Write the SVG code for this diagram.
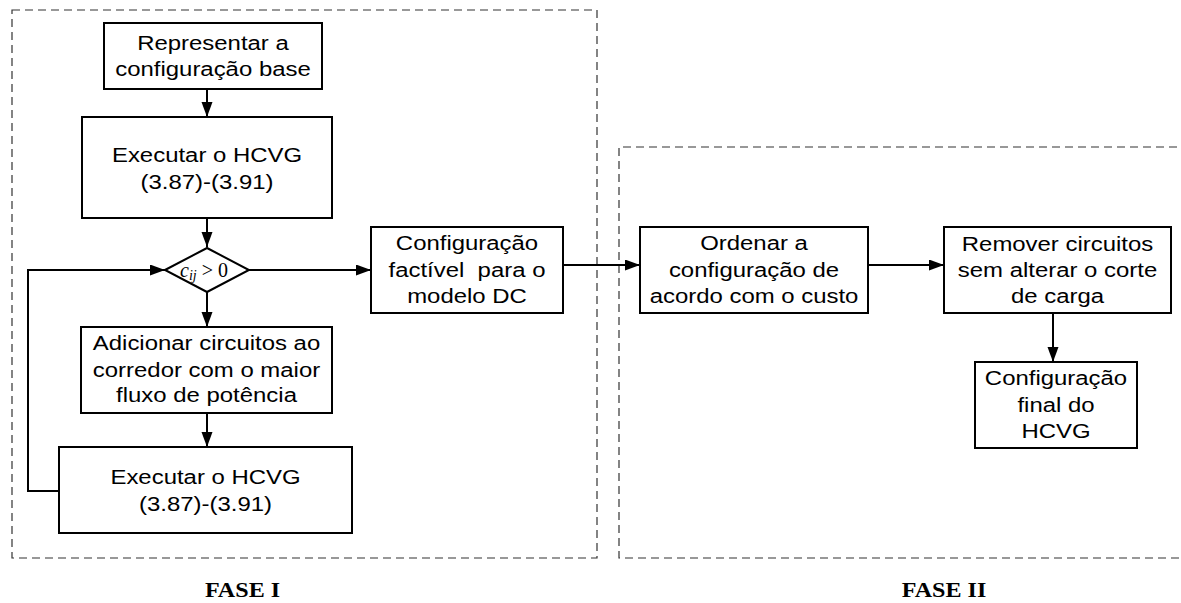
<svg xmlns="http://www.w3.org/2000/svg" width="1181" height="603" viewBox="0 0 1181 603">
<style>
.box{fill:#fff;stroke:#000;stroke-width:2}
.t{font-family:"Liberation Sans",Arial,sans-serif;font-size:21px;fill:#000;text-anchor:middle}
.ph{font-family:"Liberation Serif","Times New Roman",serif;font-size:21.5px;font-weight:bold;fill:#000;text-anchor:middle}
.dash{fill:none;stroke:#333;stroke-width:1.2;stroke-dasharray:8 5}
.c{fill:none;stroke:#000;stroke-width:2}
</style>
<defs>
<marker id="ah" markerUnits="userSpaceOnUse" markerWidth="16" markerHeight="12" refX="15" refY="5.5" orient="auto">
<path d="M0,0 L15,5.5 L0,11 z" fill="#000"/>
</marker>
</defs>
<g id="phases">
<rect class="dash" x="12" y="10" width="585" height="548"/>
<path class="dash" d="M1190,147 H619 V558 H1190"/>
<text class="ph" transform="translate(242.5,597) scale(1.12 1)">FASE I</text>
<text class="ph" transform="translate(944,597) scale(1.12 1)">FASE II</text>
</g>
<g id="connectors">
<path class="c" d="M207,89 V117" marker-end="url(#ah)"/>
<path class="c" d="M207,218 V247" marker-end="url(#ah)"/>
<path class="c" d="M59,491 H28 V270 H165" marker-end="url(#ah)"/>
<path class="c" d="M249,270 H371" marker-end="url(#ah)"/>
<path class="c" d="M207,292 V327" marker-end="url(#ah)"/>
<path class="c" d="M207,413 V447" marker-end="url(#ah)"/>
<path class="c" d="M563,265 H640" marker-end="url(#ah)"/>
<path class="c" d="M868,265 H944" marker-end="url(#ah)"/>
<path class="c" d="M1053,313 V362" marker-end="url(#ah)"/>
</g>
<g id="n1">
<rect class="box" x="104" y="23" width="218" height="66"/>
<text class="t" transform="translate(213,50) scale(1.14 1)">Representar a</text>
<text class="t" transform="translate(213,76) scale(1.14 1)">configuração base</text>
</g>
<g id="n2">
<rect class="box" x="82" y="117" width="250" height="101"/>
<text class="t" transform="translate(207,162) scale(1.14 1)">Executar o HCVG</text>
<text class="t" transform="translate(207,189) scale(1.14 1)">(3.87)-(3.91)</text>
</g>
<g id="n3">
<path class="box" d="M165,270 L207,248 L249,270 L207,292 Z"/>
<text x="204" y="277" font-family="'Liberation Serif','Times New Roman',serif" font-size="20" text-anchor="middle"><tspan font-style="italic">c</tspan><tspan font-style="italic" font-size="14" dy="3">ij</tspan><tspan dy="-3"> &gt; 0</tspan></text>
</g>
<g id="n4">
<rect class="box" x="81" y="327" width="251" height="86"/>
<text class="t" transform="translate(206.5,350) scale(1.14 1)">Adicionar circuitos ao</text>
<text class="t" transform="translate(206.5,377) scale(1.14 1)">corredor com o maior</text>
<text class="t" transform="translate(206.5,402) scale(1.14 1)">fluxo de potência</text>
</g>
<g id="n5">
<rect class="box" x="59" y="447" width="293" height="86"/>
<text class="t" transform="translate(205.5,484) scale(1.14 1)">Executar o HCVG</text>
<text class="t" transform="translate(205.5,511) scale(1.14 1)">(3.87)-(3.91)</text>
</g>
<g id="n6">
<rect class="box" x="371" y="227" width="192" height="86"/>
<text class="t" transform="translate(467,250) scale(1.14 1)">Configuração</text>
<text class="t" xml:space="preserve" transform="translate(467,277) scale(1.14 1)">factível  para o</text>
<text class="t" transform="translate(467,303) scale(1.14 1)">modelo DC</text>
</g>
<g id="n7">
<rect class="box" x="640" y="227" width="228" height="86"/>
<text class="t" transform="translate(754,250) scale(1.14 1)">Ordenar a</text>
<text class="t" transform="translate(754,277) scale(1.14 1)">configuração de</text>
<text class="t" transform="translate(754,303) scale(1.14 1)">acordo com o custo</text>
</g>
<g id="n8">
<rect class="box" x="944" y="227" width="227" height="86"/>
<text class="t" transform="translate(1057.5,251) scale(1.14 1)">Remover circuitos</text>
<text class="t" transform="translate(1057.5,277) scale(1.14 1)">sem alterar o corte</text>
<text class="t" transform="translate(1057.5,303) scale(1.14 1)">de carga</text>
</g>
<g id="n9">
<rect class="box" x="975" y="362" width="162" height="86"/>
<text class="t" transform="translate(1056,385) scale(1.14 1)">Configuração</text>
<text class="t" transform="translate(1056,412) scale(1.14 1)">final do</text>
<text class="t" transform="translate(1056,438) scale(1.14 1)">HCVG</text>
</g>
</svg>
